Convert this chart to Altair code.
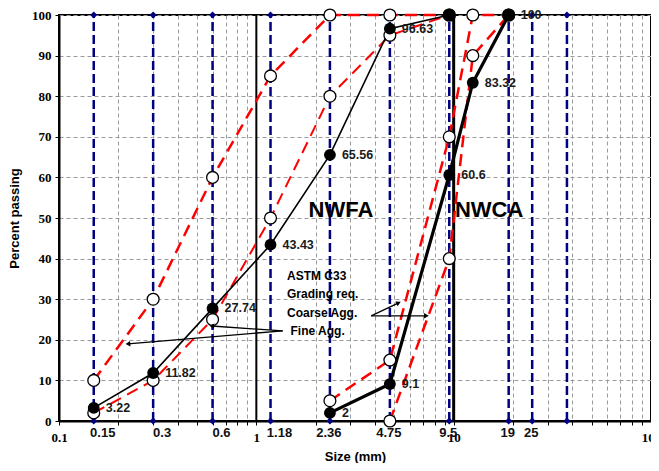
import math
import altair as alt
import pandas as pd

# ---------------- data ----------------
sieve_sizes = [0.15, 0.3, 0.6, 1.18, 2.36, 4.75, 9.5, 19, 25, 37.5]
sieve_labels = ["0.15", "0.3", "0.6", "1.18", "2.36", "4.75", "9.5", "19", "25", ""]

nwfa_size = [0.15, 0.3, 0.6, 1.18, 2.36, 4.75, 9.5]
nwfa_pass = [3.22, 11.82, 27.74, 43.43, 65.56, 96.63, 100]
nwfa_text = ["3.22", "11.82", "27.74", "43.43", "65.56", "96.63", ""]

nwca_size = [2.36, 4.75, 9.5, 12.5, 19]
nwca_pass = [2, 9.1, 60.6, 83.32, 100]
nwca_text = ["2", "9.1", "60.6", "83.32", "100"]

fine_size = [0.15, 0.3, 0.6, 1.18, 2.36, 4.75, 9.5]
fine_upper = [10, 30, 60, 85, 100, 100, 100]
fine_lower = [2, 10, 25, 50, 80, 95, 100]

coarse_upper_size = [2.36, 4.75, 9.5, 12.5, 19]
coarse_upper = [5, 15, 70, 100, 100]
coarse_lower_size = [4.75, 9.5, 12.5, 19]
coarse_lower = [0, 40, 90, 100]

axis_label_values = [0.1, 1, 10, 100]
y_ticks = [0, 10, 20, 30, 40, 50, 60, 70, 80, 90, 100]

# annotations (data coordinates)
big_labels = ["NWFA", "NWCA"]
big_x = [1.84, 10.15]
big_y = [52, 52]

note_text = "ASTM C33\nGrading req.\nCoarse Agg."
note_x = [1.43]
note_y = [37.0]
fine_note_x = [1.49]
fine_note_y = [22.2]

arrow_src_x = [1.36, 1.36, 3.82, 3.82]
arrow_src_y = [22.2, 22.2, 25.9, 25.9]
arrow_tgt_x = [0.2235, 0.5947, 5.26, 7.28]
arrow_tgt_y = [19.0, 23.4, 29.1, 25.9]

# ---------------- layout ----------------
W, H = 592, 406
SANS = "Liberation Sans"
SERIF = "Liberation Serif"
NAVY = "#000080"
RED = "#ff0000"

minor_ticks = []
for dec in [0.1, 1, 10]:
    for k in range(1, 10):
        minor_ticks.append(round(dec * k, 4))
minor_ticks.append(100)

label_expr = ("indexof([" + ",".join(str(v) for v in axis_label_values) +
              "], datum.value) >= 0 ? format(datum.value,'~g') : ''")

xscale = alt.Scale(type="log", domain=[0.1, 100], nice=False)
yscale = alt.Scale(domain=[0, 100], nice=False)

x_axis = alt.Axis(
    values=minor_ticks, labelExpr=label_expr, title="Size (mm)",
    grid=True, gridColor="#9a9a9a", gridDash=[4, 3], gridWidth=1,
    domainColor="black", domainWidth=2, tickColor="black", tickSize=4,
    labelFont=SERIF, labelFontWeight="bold", labelFontSize=13, labelColor="black",
    labelPadding=6, labelFlush=False, labelOverlap=False,
    titleFont=SANS, titleFontWeight="bold", titleFontSize=13, titleColor="black",
    titlePadding=6,
)
y_axis = alt.Axis(
    values=y_ticks, title="Percent passing",
    grid=True, gridColor="#9a9a9a", gridDash=[4, 3], gridWidth=1,
    domainColor="black", domainWidth=2, tickColor="black", tickSize=4,
    labelFont=SERIF, labelFontWeight="bold", labelFontSize=13, labelColor="black",
    labelPadding=4,
    titleFont=SANS, titleFontWeight="bold", titleFontSize=13, titleColor="black",
    titlePadding=10,
)


def X(field="size"):
    return alt.X(f"{field}:Q", scale=xscale, axis=x_axis, title="Size (mm)")


def Y(field="pct"):
    return alt.Y(f"{field}:Q", scale=yscale, axis=y_axis, title="Percent passing")


sieves = pd.DataFrame({"size": sieve_sizes, "label": sieve_labels})
sieves["lo"] = 0
sieves["hi"] = 100

base = alt.Chart(sieves).mark_rule(strokeDash=[9, 4], strokeWidth=2.5, color=NAVY).encode(
    x=X(), y=Y("lo"), y2="hi:Q"
)

diam_lo = alt.Chart(sieves).mark_point(shape="diamond", filled=True, color=NAVY, size=50, opacity=1).encode(
    x=X(), y=Y("lo")
)
diam_hi = alt.Chart(sieves).mark_point(shape="diamond", filled=True, color=NAVY, size=50, opacity=1).encode(
    x=X(), y=Y("hi")
)

fine_sieves = sieves.iloc[:4]
other_sieves = sieves.iloc[4:]
sieve_txt1 = alt.Chart(fine_sieves).mark_text(
    font=SANS, fontWeight="bold", fontSize=13, color="#111", dy=12, dx=9, baseline="middle"
).encode(x=X(), y=Y("lo"), text="label:N")
sieve_txt2 = alt.Chart(other_sieves).mark_text(
    font=SANS, fontWeight="bold", fontSize=13, color="#111", dy=12, dx=-1, baseline="middle"
).encode(x=X(), y=Y("lo"), text="label:N")

blk = pd.DataFrame({"size": [1, 10], "lo": [0, 0], "hi": [100, 100]})
blk1 = alt.Chart(blk.iloc[:1]).mark_rule(color="black", strokeWidth=2).encode(x=X(), y=Y("lo"), y2="hi:Q")
blk10 = alt.Chart(blk.iloc[1:]).mark_rule(color="black", strokeWidth=3).encode(x=X(), y=Y("lo"), y2="hi:Q")

fine_df = pd.DataFrame({"size": fine_size, "up": fine_upper, "low": fine_lower})
cu_df = pd.DataFrame({"size": coarse_upper_size, "pct": coarse_upper})
cl_df = pd.DataFrame({"size": coarse_lower_size, "pct": coarse_lower})

red = dict(color=RED, strokeDash=[12, 7], strokeWidth=2.5)
fu_line = alt.Chart(fine_df).mark_line(**red).encode(x=X(), y=Y("up"))
fl_line = alt.Chart(fine_df).mark_line(color=RED, strokeDash=[12, 7], strokeWidth=2).encode(x=X(), y=Y("low"))
cu_line = alt.Chart(cu_df).mark_line(**red).encode(x=X(), y=Y())
cl_line = alt.Chart(cl_df).mark_line(**red).encode(x=X(), y=Y())

nwfa_df = pd.DataFrame({"size": nwfa_size, "pct": nwfa_pass, "t": nwfa_text})
nwca_df = pd.DataFrame({"size": nwca_size, "pct": nwca_pass, "t": nwca_text})

nwfa_line = alt.Chart(nwfa_df).mark_line(color="black", strokeWidth=1.6).encode(x=X(), y=Y())
nwca_line = alt.Chart(nwca_df).mark_line(color="black", strokeWidth=3.2).encode(x=X(), y=Y())
nwfa_pts = alt.Chart(nwfa_df).mark_point(filled=True, color="black", size=140, opacity=1).encode(x=X(), y=Y())
nwca_pts = alt.Chart(nwca_df).mark_point(filled=True, color="black", size=140, opacity=1).encode(x=X(), y=Y())

open_style = dict(shape="circle", filled=True, fill="white", stroke="black", strokeWidth=1.3, size=140, opacity=1)
fu_pts = alt.Chart(fine_df).mark_point(**open_style).encode(x=X(), y=Y("up"))
fl_pts = alt.Chart(fine_df).mark_point(**open_style).encode(x=X(), y=Y("low"))
cu_pts = alt.Chart(cu_df).mark_point(**open_style).encode(x=X(), y=Y())
cl_pts = alt.Chart(cl_df).mark_point(**open_style).encode(x=X(), y=Y())

lbl_style = dict(font=SANS, fontWeight="bold", fontSize=12.5, color="#1a1a1a", align="left", baseline="middle", dx=12)
nwfa_lbl = alt.Chart(nwfa_df).mark_text(**lbl_style).encode(x=X(), y=Y(), text="t:N")
nwca_lbl = alt.Chart(nwca_df).mark_text(**lbl_style).encode(x=X(), y=Y(), text="t:N")

big_df = pd.DataFrame({"size": big_x, "pct": big_y, "t": big_labels})
big_txt = alt.Chart(big_df).mark_text(
    font=SANS, fontWeight="bold", fontSize=22, color="black", align="left", baseline="middle"
).encode(x=X(), y=Y(), text="t:N")

note_df = pd.DataFrame({"size": note_x, "pct": note_y})
note = alt.Chart(note_df).mark_text(
    text=note_text, lineBreak="\n", lineHeight=18.5, font=SANS, fontWeight="bold", fontSize=12,
    color="black", align="left", baseline="top"
).encode(x=X(), y=Y())
fnote_df = pd.DataFrame({"size": fine_note_x, "pct": fine_note_y})
fnote = alt.Chart(fnote_df).mark_text(
    text="Fine Agg.", font=SANS, fontWeight="bold", fontSize=12, color="black", align="left", baseline="middle"
).encode(x=X(), y=Y())


def px(v):
    return W * (math.log10(v) + 1) / 3


def py(v):
    return H * (1 - v / 100)


angles = []
for sx, sy, tx, ty in zip(arrow_src_x, arrow_src_y, arrow_tgt_x, arrow_tgt_y):
    dx = px(tx) - px(sx)
    dy = py(ty) - py(sy)
    angles.append(math.degrees(math.atan2(dx, -dy)) % 360)

arr_df = pd.DataFrame({"size": arrow_src_x, "pct": arrow_src_y, "tx": arrow_tgt_x, "ty": arrow_tgt_y, "ang": angles})
arr_lines = alt.Chart(arr_df).mark_rule(color="black", strokeWidth=1.3).encode(
    x=X(), y=Y(), x2="tx:Q", y2="ty:Q"
)
arr_heads = alt.Chart(arr_df).mark_point(shape="triangle-up", filled=True, color="black", size=30, opacity=1).encode(
    x=X("tx"), y=Y("ty"), angle=alt.Angle("ang:Q", scale=None)
)

chart = alt.layer(
    base, blk1, blk10, diam_lo, diam_hi,
    fu_line, fl_line, cu_line, cl_line,
    nwfa_line, nwca_line,
    fu_pts, fl_pts, cu_pts, cl_pts,
    nwfa_pts, nwca_pts,
    nwfa_lbl, nwca_lbl, sieve_txt1, sieve_txt2,
    big_txt, note, fnote, arr_lines, arr_heads,
).properties(
    width=W, height=H,
    autosize=alt.AutoSizeParams(type="none"),
    padding={"left": 51, "top": 7, "right": 0, "bottom": 42},
    background="white",
).configure_view(stroke="black", strokeWidth=2)

chart.save("out.html", embed_options={"renderer": "svg", "actions": False})
